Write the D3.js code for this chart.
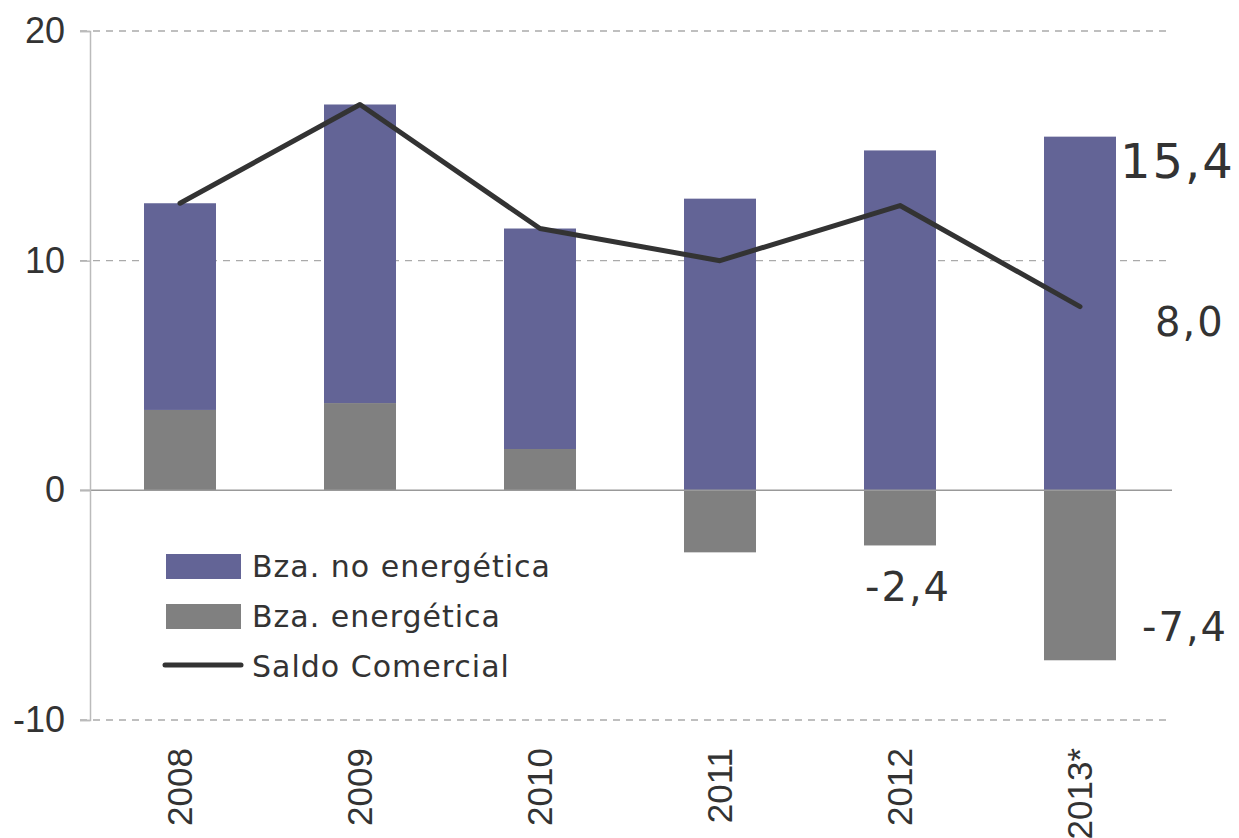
<!DOCTYPE html>
<html>
<head>
<meta charset="utf-8">
<title>Saldo comercial</title>
<script src="https://d3js.org/d3.v7.min.js"></script>
<style>
body { margin: 0; background: #fff; }
.tick-label { font-family: "Liberation Sans", Arial, sans-serif; fill: #333; }
.lab { font-family: "DejaVu Sans", sans-serif; fill: #333; }
</style>
</head>
<body>
<div id="chart"></div>
<script>
// data
var years = ["2008", "2009", "2010", "2011", "2012", "2013*"];
var energetica = [3.5, 3.8, 1.8, -2.7, -2.4, -7.4];
var noEnergetica = [9.0, 13.0, 9.6, 12.7, 14.8, 15.4];
var saldo = [12.5, 16.8, 11.4, 10.0, 12.4, 8.0];
var yTicks = [-10, 0, 10, 20];

var W = 1239, H = 838;
var svg = d3.select("#chart").append("svg")
    .attr("width", W).attr("height", H);

var x = d3.scaleBand().domain(years).range([90, 1170])
    .paddingInner(0.6).paddingOuter(0.3);
var y = d3.scaleLinear().domain([-10, 20]).range([720, 31]);

// gridlines
svg.append("g").selectAll("line")
  .data(yTicks.filter(function(d) { return d !== 0; }))
  .join("line")
    .attr("x1", 80).attr("x2", 1172)
    .attr("y1", function(d) { return y(d); })
    .attr("y2", function(d) { return y(d); })
    .attr("stroke", "#aaa").attr("stroke-width", 1.3)
    .attr("stroke-dasharray", "7,6");

// bars: energy from 0, non-energy stacked on positive energy
var g = svg.append("g");
years.forEach(function(yr, i) {
  var e = energetica[i], n = noEnergetica[i];
  g.append("rect")
    .attr("x", x(yr)).attr("width", x.bandwidth())
    .attr("y", y(Math.max(e, 0)))
    .attr("height", Math.abs(y(e) - y(0)))
    .attr("fill", "#808080");
  var base = Math.max(e, 0);
  g.append("rect")
    .attr("x", x(yr)).attr("width", x.bandwidth())
    .attr("y", y(base + n))
    .attr("height", y(base) - y(base + n))
    .attr("fill", "#636496");
});

// zero line
svg.append("line")
  .attr("x1", 80).attr("x2", 1172)
  .attr("y1", y(0)).attr("y2", y(0))
  .attr("stroke", "#999").attr("stroke-width", 1.5);

// y axis
var yAxis = svg.append("g").attr("transform", "translate(90,0)")
  .call(d3.axisLeft(y).tickValues(yTicks).tickSize(10).tickPadding(15)
    .tickFormat(function(d) { return String(d); }));
yAxis.select(".domain").attr("stroke", "#bbb").attr("stroke-width", 1.5);
yAxis.selectAll(".tick line").attr("stroke", "#bbb").attr("stroke-width", 1.5);
yAxis.selectAll(".tick text").attr("class", "tick-label")
  .style("font-size", "36px").attr("fill", "#333");

// year labels
svg.append("g").selectAll("text")
  .data(years).join("text")
    .attr("class", "tick-label")
    .attr("transform", function(d) {
      return "translate(" + (x(d) + x.bandwidth() / 2 + 12) + ",748) rotate(-90)";
    })
    .attr("text-anchor", "end")
    .style("font-size", "35px")
    .text(function(d) { return d; });

// saldo line
var line = d3.line()
  .x(function(d, i) { return x(years[i]) + x.bandwidth() / 2; })
  .y(function(d) { return y(d); });
svg.append("path")
  .datum(saldo)
  .attr("d", line)
  .attr("fill", "none")
  .attr("stroke", "#333").attr("stroke-width", 5)
  .attr("stroke-linejoin", "round").attr("stroke-linecap", "round");

// value labels
var labels = [
  {t: "15,4", x: 1120, y: 178, s: 48},
  {t: "8,0", x: 1155, y: 336, s: 40},
  {t: "-2,4", x: 865, y: 601, s: 40},
  {t: "-7,4", x: 1142, y: 641, s: 40}
];
svg.append("g").selectAll("text")
  .data(labels).join("text")
    .attr("class", "lab")
    .attr("x", function(d) { return d.x; })
    .attr("y", function(d) { return d.y; })
    .style("font-size", function(d) { return d.s + "px"; })
    .style("letter-spacing", "2px")
    .text(function(d) { return d.t; });

// legend
var leg = svg.append("g");
var items = [
  {name: "Bza. no energética", color: "#636496", type: "rect"},
  {name: "Bza. energética", color: "#808080", type: "rect"},
  {name: "Saldo Comercial", color: "#333", type: "line"}
];
items.forEach(function(it, i) {
  var cy = 566 + i * 50;
  if (it.type === "rect") {
    leg.append("rect").attr("x", 166).attr("y", cy - 12)
      .attr("width", 75).attr("height", 25).attr("fill", it.color);
  } else {
    leg.append("line").attr("x1", 165).attr("x2", 241)
      .attr("y1", cy - 1).attr("y2", cy - 1)
      .attr("stroke", it.color).attr("stroke-width", 5)
      .attr("stroke-linecap", "round");
  }
  leg.append("text").attr("class", "lab")
    .attr("x", 252).attr("y", cy + 11)
    .style("font-size", "30px").style("letter-spacing", "1px")
    .text(it.name);
});
</script>
</body>
</html>
